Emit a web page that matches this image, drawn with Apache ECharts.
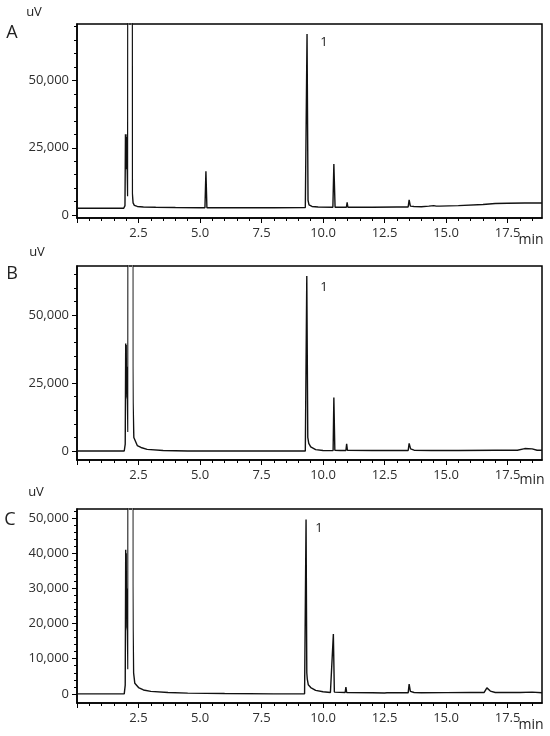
<!DOCTYPE html>
<html><head><meta charset="utf-8">
<script src="https://cdn.jsdelivr.net/npm/echarts@6/dist/echarts.min.js"></script>
<style>html,body{margin:0;padding:0;background:#fff}#c{width:550px;height:736px}</style>
</head><body><div id="c"></div>
<script>
// ---- data (retention time in min, signal in uV) ----
const timesA = [0, 1.90, 1.95, 1.97, 1.98, 1.99, 2.00, 2.01, 2.02, 2.04, 2.06, 2.08, 2.23, 2.25, 2.28, 2.33, 2.45, 2.7, 3.2, 4.0, 5.0, 5.20, 5.24, 5.28, 6.5, 8.0, 9.28, 9.35, 9.39, 9.43, 9.55, 9.8, 10.40, 10.44, 10.49, 10.95, 10.98, 11.01, 12.0, 13.0, 13.46, 13.50, 13.55, 13.7, 14.0, 14.3, 14.5, 14.6, 14.75, 15.5, 16.5, 17.0, 17.5, 18.2, 18.9];
const valuesA = [2500, 2500, 3500, 30000, 17000, 30000, 17500, 29000, 18000, 17000, 7000, 300000, 300000, 8000, 4500, 3600, 3200, 3000, 2900, 2800, 2700, 2700, 16300, 2700, 2700, 2700, 2800, 67300, 5500, 3800, 3200, 3000, 2900, 19000, 2900, 2900, 4700, 2900, 2900, 3000, 3000, 5600, 3300, 3200, 3100, 3300, 3500, 3300, 3300, 3500, 3900, 4300, 4400, 4500, 4500];

const timesB = [0, 1.92, 1.96, 1.98, 1.99, 2.00, 2.01, 2.02, 2.03, 2.05, 2.07, 2.09, 2.26, 2.27, 2.28, 2.31, 2.45, 2.6, 2.85, 3.5, 4.5, 6.0, 8.0, 9.28, 9.34, 9.38, 9.42, 9.5, 9.7, 10.0, 10.41, 10.44, 10.48, 10.7, 10.93, 10.96, 10.99, 12.0, 13.46, 13.50, 13.56, 13.7, 14.40, 14.46, 14.52, 15.5, 17.0, 17.9, 18.2, 18.5, 18.7, 18.9];
const valuesB = [0, 0, 2500, 39500, 21000, 39000, 22000, 31000, 20000, 19000, 7000, 300000, 300000, 31000, 17500, 5000, 2000, 1300, 600, 200, 0, 0, 0, 0, 64300, 5000, 2800, 1500, 500, 200, 150, 19700, 300, 200, 200, 2600, 300, 200, 200, 2800, 800, 300, 200, 700, 200, 200, 300, 300, 900, 800, 300, 300];

const timesC = [0, 1.92, 1.96, 1.98, 1.99, 2.00, 2.01, 2.02, 2.03, 2.05, 2.07, 2.09, 2.26, 2.27, 2.28, 2.30, 2.35, 2.5, 2.7, 3.0, 3.7, 4.5, 6.0, 8.0, 9.25, 9.31, 9.34, 9.36, 9.40, 9.5, 9.7, 10.0, 10.3, 10.38, 10.42, 10.46, 10.90, 10.93, 10.96, 12.0, 12.5, 12.55, 12.6, 13.46, 13.50, 13.55, 13.7, 14.0, 15.0, 16.0, 16.55, 16.66, 16.8, 17.0, 18.0, 18.5, 18.9];
const valuesC = [0, 0, 2500, 41000, 22000, 40000, 22000, 30000, 19000, 18000, 7000, 300000, 300000, 31000, 18000, 6000, 3000, 1800, 1100, 700, 400, 200, 100, 0, 0, 49600, 6000, 4200, 2600, 1800, 1000, 600, 400, 500, 17000, 500, 400, 1900, 400, 300, 250, 600, 300, 300, 2800, 700, 400, 300, 350, 400, 400, 1700, 800, 400, 400, 500, 300];

// ---- ticks / labels ----
const xLabels = [2.5, 5.0, 7.5, 10.0, 12.5, 15.0, 17.5];
const xMajorTicks = [0, 2.5, 5.0, 7.5, 10.0, 12.5, 15.0, 17.5];
const xMinorTicks = [0.5, 1, 1.5, 2, 3, 3.5, 4, 4.5, 5.5, 6, 6.5, 7, 8, 8.5, 9, 9.5, 10.5, 11, 11.5, 12, 13, 13.5, 14, 14.5, 15.5, 16, 16.5, 17, 18, 18.5];
const yLabelsAB = [0, 25000, 50000];
const yMinorAB = [5000, 10000, 15000, 20000, 30000, 35000, 40000, 45000, 55000, 60000, 65000, 70000];
const yLabelsC = [0, 10000, 20000, 30000, 40000, 50000];
const yMinorC = [2000, 4000, 6000, 8000, 12000, 14000, 16000, 18000, 22000, 24000, 26000, 28000, 32000, 34000, 36000, 38000, 42000, 44000, 46000, 48000, 52000];
const panelNames = ['A', 'B', 'C'];
const peakLabel = '1';

const FONT = '"Open Sans", sans-serif';
const panels = [
  {t: timesA, v: valuesA, top: 24, yMin: -1100, yMax: 71000, yL: yLabelsAB, yM: yMinorAB, grey: [2.075, 2.245],
   letter: [12, 33], uv: [34, 12], min: [531, 240], one: [324, 42]},
  {t: timesB, v: valuesB, top: 266, yMin: -3300, yMax: 68000, yL: yLabelsAB, yM: yMinorAB, grey: [2.085, 2.268],
   letter: [12, 274], uv: [37, 252], min: [532, 480], one: [324, 287]},
  {t: timesC, v: valuesC, top: 509, yMin: -2600, yMax: 52600, yL: yLabelsC, yM: yMinorC, grey: [2.085, 2.268],
   letter: [10, 520], uv: [36, 492], min: [531, 725], one: [319, 528]}
];

const grid = [], xAxis = [], yAxis = [], series = [], visualMap = [], graphic = [];
panels.forEach((p, i) => {
  grid.push({left: 77, top: p.top, width: 465, height: 194, show: true, borderColor: '#000', borderWidth: 1.5});
  const lbl = {fontSize: 13, color: '#2e2e2e', fontFamily: FONT};
  xAxis.push({type: 'value', gridIndex: i, min: 0, max: 18.9, position: 'bottom',
    axisLine: {onZero: false, lineStyle: {color: '#000', width: 1.5}},
    axisTick: {customValues: xMajorTicks, length: 5, lineStyle: {color: '#000', width: 1}},
    axisLabel: Object.assign({customValues: xLabels, margin: 9, formatter: v => v.toFixed(1)}, lbl),
    splitLine: {show: false}});
  xAxis.push({type: 'value', gridIndex: i, min: 0, max: 18.9, position: 'bottom',
    axisLine: {show: false, onZero: false},
    axisTick: {customValues: xMinorTicks, length: 3, lineStyle: {color: '#000', width: 1}},
    axisLabel: {show: false}, splitLine: {show: false}});
  yAxis.push({type: 'value', gridIndex: i, min: p.yMin, max: p.yMax, position: 'left',
    axisLine: {onZero: false, lineStyle: {color: '#000', width: 1.5}},
    axisTick: {customValues: p.yL, length: 5, lineStyle: {color: '#000', width: 1}},
    axisLabel: Object.assign({customValues: p.yL, margin: 8, formatter: v => v.toLocaleString('en-US')}, lbl),
    splitLine: {show: false}});
  yAxis.push({type: 'value', gridIndex: i, min: p.yMin, max: p.yMax, position: 'left',
    axisLine: {show: false, onZero: false},
    axisTick: {customValues: p.yM, length: 3, lineStyle: {color: '#000', width: 1}},
    axisLabel: {show: false}, splitLine: {show: false}});
  series.push({type: 'line', xAxisIndex: 2 * i, yAxisIndex: 2 * i, data: p.t.map((t, k) => [t, p.v[k]]),
    showSymbol: false, symbol: 'none', clip: true, lineStyle: {width: 1.4}, silent: true});
  visualMap.push({type: 'piecewise', show: false, seriesIndex: i, dimension: 0,
    pieces: [{gte: p.grey[0], lte: p.grey[1], color: '#8c8c8c'}], outOfRange: {color: '#111'}});
  const txt = (s, xy, size) => ({type: 'text', x: xy[0], y: xy[1], silent: true,
    style: {text: s, font: size + 'px ' + FONT, fill: '#222', textAlign: 'center', textVerticalAlign: 'middle', align: 'center', verticalAlign: 'middle'}});
  graphic.push(txt(panelNames[i], p.letter, 18));
  graphic.push(txt('uV', p.uv, 13));
  graphic.push(txt('min', p.min, 14));
  graphic.push(txt(peakLabel, p.one, 13));
});

const chart = echarts.init(document.getElementById('c'));
chart.setOption({animation: false, backgroundColor: '#fff', grid, xAxis, yAxis, series, visualMap, graphic});
</script>
</body></html>
